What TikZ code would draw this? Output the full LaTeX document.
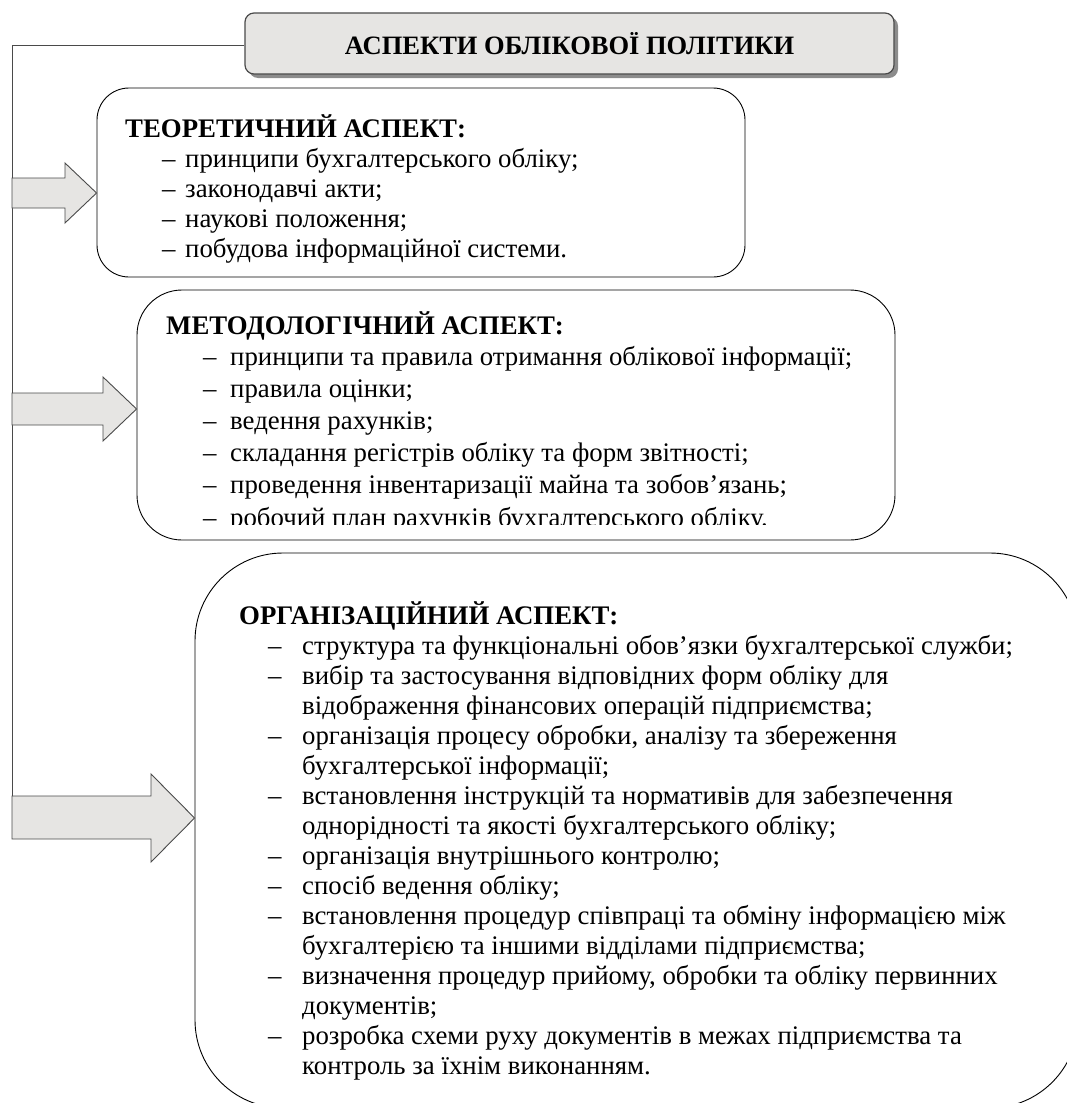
\documentclass[tikz,border=0pt]{standalone}
\usepackage{fontspec}
\setmainfont{Liberation Serif}
\usetikzlibrary{shadows}
\definecolor{boxgray}{HTML}{E6E5E3}
\definecolor{edgegray}{HTML}{4A4A4A}
\tikzset{
  titlebox/.style={draw=edgegray, line width=1.2pt, fill=boxgray, rounded corners=9pt,
    minimum width=649pt, minimum height=61pt, inner sep=0pt,
    drop shadow={shadow xshift=4pt, shadow yshift=-4pt, fill=black, opacity=0.45}},
  aspbox/.style={draw=black, line width=0.9pt, inner sep=0pt},
  blkarrow/.style={draw=edgegray, line width=0.9pt, fill=boxgray, line join=miter},
  spine/.style={draw=edgegray, line width=1pt},
  txt/.style={anchor=base west, inner sep=0pt},
}
% item: dash at offset #1, text after a dash box of width #2
\newcommand{\itm}[3]{\hspace*{#1}\makebox[#2][l]{–}#3\par}
\newcommand{\cnt}[2]{\hspace*{#1}#2\par}
\begin{document}
\begin{tikzpicture}[x=1pt, y=-1pt]
\useasboundingbox (0,0) rectangle (1067,1103);
\clip (0,0) rectangle (1067,1103);
% title
\node[titlebox] (title) at (569.5,43.5) {\fontsize{26.5}{30}\selectfont\bfseries АСПЕКТИ ОБЛІКОВОЇ ПОЛІТИКИ};
% boxes
\node[aspbox, rounded corners=32pt, minimum width=648pt, minimum height=189pt] (box1) at (421,182.5) {};
\node[aspbox, rounded corners=45pt, minimum width=758pt, minimum height=250pt] (box2) at (516,415) {};
\node[aspbox, rounded corners=88pt, minimum width=883pt, minimum height=555pt] (box3) at (636.5,830.5) {};
% spine
\coordinate (sp1) at (12,45);
\coordinate (sp2) at (12,830);
\draw[spine] (title.west |- sp1) -- (sp1) -- (sp2);
% arrows
\draw[blkarrow] (sp1 |- 0,178) -- (65,178) -- (65,163) -- (box1.west |- 0,193) -- (65,223) -- (65,208) -- (sp1 |- 0,208) -- cycle;
\draw[blkarrow] (sp1 |- 0,393) -- (103,393) -- (103,377) -- (box2.west |- 0,409) -- (103,441) -- (103,425) -- (sp1 |- 0,425) -- cycle;
\draw[blkarrow] (sp1 |- 0,796) -- (151,796) -- (151,774) -- (box3.west |- 0,818) -- (151,862) -- (151,839) -- (sp1 |- 0,839) -- cycle;
% texts
\node[txt] (t1) at (125,137) {\parbox[t]{610pt}{\fontsize{26.8}{30.2}\selectfont\raggedright
{\bfseries ТЕОРЕТИЧНИЙ АСПЕКТ:}\par
\itm{37pt}{23pt}{принципи бухгалтерського обліку;}
\itm{37pt}{23pt}{законодавчі акти;}
\itm{37pt}{23pt}{наукові положення;}
\itm{37pt}{23pt}{побудова інформаційної системи.}}};
\begin{scope}
\clip (box2.north west) rectangle (box2.east |- 0,524);
\node[txt] (t2) at (166,334) {\parbox[t]{720pt}{\fontsize{26.8}{32.2}\selectfont\raggedright
{\bfseries МЕТОДОЛОГІЧНИЙ АСПЕКТ:}\par
\vspace*{-1.2pt}%
\itm{37pt}{27pt}{принципи та правила отримання облікової інформації;}
\itm{37pt}{27pt}{правила оцінки;}
\itm{37pt}{27pt}{ведення рахунків;}
\itm{37pt}{27pt}{складання регістрів обліку та форм звітності;}
\itm{37pt}{27pt}{проведення інвентаризації майна та зобов’язань;}
\itm{37pt}{27pt}{робочий план рахунків бухгалтерського обліку.}}};
\end{scope}
\node[txt] (t3) at (239,624) {\parbox[t]{820pt}{\fontsize{26.8}{30}\selectfont\raggedright
{\bfseries ОРГАНІЗАЦІЙНИЙ АСПЕКТ:}\par
\itm{29pt}{34pt}{структура та функціональні обов’язки бухгалтерської служби;}
\itm{29pt}{34pt}{вибір та застосування відповідних форм обліку для}
\cnt{63pt}{відображення фінансових операцій підприємства;}
\itm{29pt}{34pt}{організація процесу обробки, аналізу та збереження}
\cnt{63pt}{бухгалтерської інформації;}
\itm{29pt}{34pt}{встановлення інструкцій та нормативів для забезпечення}
\cnt{63pt}{однорідності та якості бухгалтерського обліку;}
\itm{29pt}{34pt}{організація внутрішнього контролю;}
\itm{29pt}{34pt}{спосіб ведення обліку;}
\itm{29pt}{34pt}{встановлення процедур співпраці та обміну інформацією між}
\cnt{63pt}{бухгалтерією та іншими відділами підприємства;}
\itm{29pt}{34pt}{визначення процедур прийому, обробки та обліку первинних}
\cnt{63pt}{документів;}
\itm{29pt}{34pt}{розробка схеми руху документів в межах підприємства та}
\cnt{63pt}{контроль за їхнім виконанням.}}};
\end{tikzpicture}
\end{document}
